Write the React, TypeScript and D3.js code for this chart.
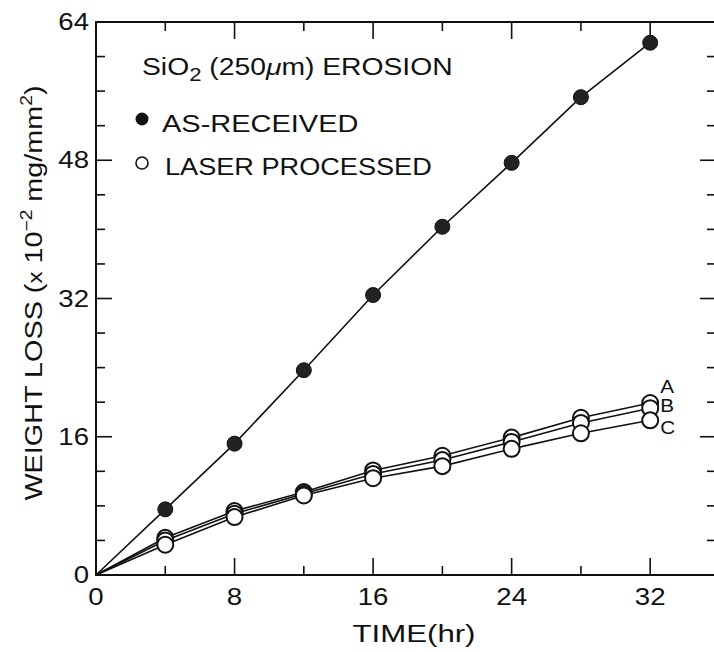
import React, { useRef, useEffect } from 'react';
import * as d3 from 'd3';

const times = [0, 4, 8, 12, 16, 20, 24, 28, 32];
const asReceived = [0, 7.6, 15.2, 23.7, 32.4, 40.3, 47.7, 55.3, 61.6];
const laserA = [0, 4.3, 7.4, 9.6, 12.1, 13.8, 15.9, 18.2, 19.9];
const laserB = [0, 4.0, 7.1, 9.4, 11.7, 13.3, 15.4, 17.6, 19.3];
const laserC = [0, 3.5, 6.7, 9.2, 11.2, 12.6, 14.6, 16.4, 17.9];
const laserNames = ['A', 'B', 'C'];
const xTickLabels = [0, 8, 16, 24, 32];
const yTickLabels = [0, 16, 32, 48, 64];

const FONT = '"Liberation Sans", Arial, sans-serif';
const SX = 1.2;

const App = () => {
  const ref = useRef<SVGSVGElement>(null);

  useEffect(() => {
    const svg = d3.select(ref.current);
    svg.selectAll('*').remove();

    const x = d3.scaleLinear().domain([0, 35.8]).range([96, 716]);
    const y = d3.scaleLinear().domain([0, 64]).range([575, 22]);

    const line = d3.line<number>()
      .x((d, i) => x(times[i]))
      .y(d => y(d));

    const ink = '#111';

    // scaled text helper
    const label = (tx: number, ty: number, size: number, anchor: string, sx = SX) =>
      svg.append('g').attr('transform', `translate(${tx},${ty}) scale(${sx},1)`)
        .append('text')
        .attr('font-family', FONT)
        .attr('font-size', size)
        .attr('fill', ink)
        .attr('text-anchor', anchor);

    // frame
    const [x0, x1] = x.range();
    const [y0, y1] = y.range();
    svg.append('path')
      .attr('d', `M${x0},${y1}H${x1}V${y0}H${x0}Z`)
      .attr('fill', 'none').attr('stroke', ink).attr('stroke-width', 2);

    // x ticks (bottom up, top down)
    const xt = d3.range(4, 35, 4);
    xt.forEach(t => {
      const len = t % 8 === 0 ? 17 : 9;
      svg.append('line').attr('x1', x(t)).attr('x2', x(t)).attr('y1', y0).attr('y2', y0 - len)
        .attr('stroke', ink).attr('stroke-width', 1.6);
      svg.append('line').attr('x1', x(t)).attr('x2', x(t)).attr('y1', y1).attr('y2', y1 + len)
        .attr('stroke', ink).attr('stroke-width', 1.6);
    });
    // y ticks (left right, right left)
    const yt = d3.range(4, 64, 4);
    yt.forEach(v => {
      const len = v % 16 === 0 ? 16 : 9;
      svg.append('line').attr('x1', x0).attr('x2', x0 + len).attr('y1', y(v)).attr('y2', y(v))
        .attr('stroke', ink).attr('stroke-width', 1.6);
      svg.append('line').attr('x1', x1).attr('x2', x1 - len).attr('y1', y(v)).attr('y2', y(v))
        .attr('stroke', ink).attr('stroke-width', 1.6);
    });

    xTickLabels.forEach(t => {
      label(x(t), 605, 23, 'middle').text(String(t));
    });
    yTickLabels.forEach(v => {
      label(89, y(v) + 8, 23, 'end').text(String(v));
    });

    // axis titles
    label(414, 642, 24, 'middle', 1.3).text('TIME(hr)');

    const yl = svg.append('g').attr('transform', 'translate(42,293) rotate(-90) scale(1.2,1)')
      .append('text')
      .attr('font-family', FONT).attr('font-size', 24).attr('fill', ink)
      .attr('text-anchor', 'middle');
    yl.append('tspan').text('WEIGHT LOSS (');
    yl.append('tspan').attr('font-size', 20).text('x');
    yl.append('tspan').text(' 10');
    yl.append('tspan').attr('font-size', 16).attr('dy', -10).text('−2');
    yl.append('tspan').attr('dy', 10).text(' mg/mm');
    yl.append('tspan').attr('font-size', 16).attr('dy', -10).text('2');
    yl.append('tspan').attr('dy', 10).text(')');

    // legend
    const title = label(142, 75, 23, 'start', 1.23);
    title.append('tspan').text('SiO');
    title.append('tspan').attr('font-size', 18).attr('dy', 6).text('2');
    title.append('tspan').attr('dy', -6).text(' (250');
    title.append('tspan').attr('font-style', 'italic').text('μ');
    title.append('tspan').text('m) EROSION');

    svg.append('circle').attr('cx', 142).attr('cy', 119).attr('r', 6.5).attr('fill', ink);
    label(162, 132, 23, 'start', 1.26).text('AS-RECEIVED');
    svg.append('circle').attr('cx', 142).attr('cy', 163).attr('r', 6).attr('fill', '#fff')
      .attr('stroke', ink).attr('stroke-width', 1.6);
    label(165, 175, 23, 'start', 1.18).text('LASER PROCESSED');

    // laser processed lines
    const laser = [laserA, laserB, laserC];
    laser.forEach(s => {
      svg.append('path').attr('d', line(s)).attr('fill', 'none')
        .attr('stroke', ink).attr('stroke-width', 1.6);
    });
    laser.forEach(s => {
      svg.selectAll(null).data(s.slice(1)).enter().append('circle')
        .attr('cx', (d, i) => x(times[i + 1]))
        .attr('cy', d => y(d))
        .attr('r', 8)
        .attr('fill', '#fff')
        .attr('stroke', ink)
        .attr('stroke-width', 2);
    });
    const labelShift = [-10, 4, 14];
    laser.forEach((s, k) => {
      label(x(32) + 10, y(s[s.length - 1]) + labelShift[k], 18, 'start', 1.15)
        .text(laserNames[k]);
    });

    // as-received
    svg.append('path').attr('d', line(asReceived)).attr('fill', 'none')
      .attr('stroke', ink).attr('stroke-width', 1.6);
    svg.selectAll(null).data(asReceived.slice(1)).enter().append('circle')
      .attr('cx', (d, i) => x(times[i + 1]))
      .attr('cy', d => y(d))
      .attr('r', 7.5)
      .attr('fill', '#222')
      .attr('stroke', ink)
      .attr('stroke-width', 1);
  }, []);

  return (
    <svg ref={ref} width={714} height={652}
      style={{ position: 'absolute', left: 0, top: 0, background: '#fff' }} />
  );
};

export default App;
